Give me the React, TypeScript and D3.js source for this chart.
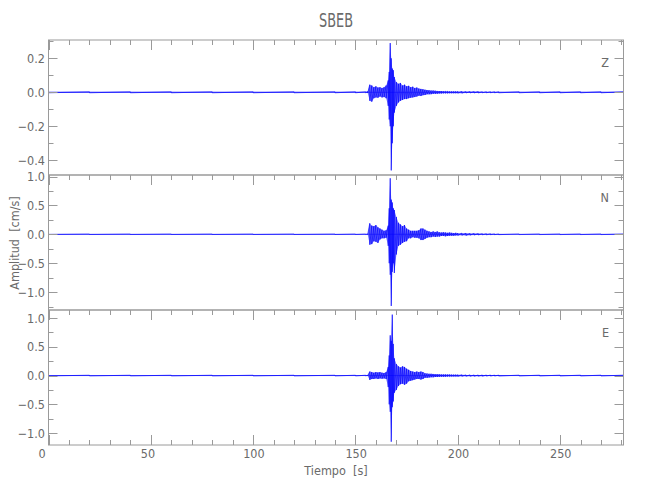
import React from "react";
import * as d3 from "d3";

const TITLE = "SBEB";
const X_LABEL = "Tiempo  [s]";
const Y_LABEL = "Amplitud  [cm/s]";
const X_MAJOR = [0, 50, 100, 150, 200, 250];
const X_MINOR_STEP = 10;
const X_DOMAIN = [0, 281];
const COMPONENTS = ["Z", "N", "E"];
const Y_DOMAINS = [
  [-0.487, 0.308],
  [-1.31, 1.026],
  [-1.207, 1.14],
];
const Y_MAJOR = [
  [0.2, 0, -0.2, -0.4],
  [1, 0.5, 0, -0.5, -1],
  [1, 0.5, 0, -0.5, -1],
];
const Y_MINOR_STEP = [0.1, 0.25, 0.25];

// time samples (s) at which the trace envelope was read
const TIMES = [0, 20, 40, 60, 80, 100, 120, 140, 150, 155, 156,
  157, 158, 159, 160, 161, 162, 163, 164, 165, 166,
  166.5, 167, 167.5, 168, 168.5,
  169, 170, 171, 172, 173, 174, 175, 176, 177, 178, 179, 180, 181, 182, 183, 184,
  185, 186, 187, 188, 189, 190, 191, 192, 193, 194, 195, 196, 197, 198, 199, 200,
  202, 204, 206, 208, 210, 212, 214, 216, 218, 220,
  230, 240, 250, 260, 270, 281];

// envelope maxima (positive side) and minima magnitudes (negative side), cm/s
const Z_UP = [0.003, 0.003, 0.003, 0.003, 0.003, 0.003, 0.003, 0.003, 0.003, 0.003, 0.004,
  0.045, 0.04, 0.03, 0.035, 0.028, 0.03, 0.025, 0.03, 0.04, 0.07,
  0.12, 0.29, 0.2, 0.14, 0.13,
  0.09, 0.06, 0.05, 0.055, 0.04, 0.045, 0.035, 0.038, 0.03, 0.033, 0.025, 0.028, 0.022, 0.02, 0.018, 0.015,
  0.013, 0.012, 0.01, 0.01, 0.009, 0.008, 0.007, 0.007, 0.006, 0.006, 0.006, 0.005, 0.005, 0.005, 0.005, 0.005,
  0.005, 0.004, 0.004, 0.004, 0.004, 0.003, 0.003, 0.003, 0.003, 0.003,
  0.003, 0.003, 0.003, 0.003, 0.003, 0.003];
const Z_DN = [0.003, 0.003, 0.003, 0.003, 0.003, 0.003, 0.003, 0.003, 0.003, 0.003, 0.004,
  0.05, 0.055, 0.035, 0.03, 0.032, 0.025, 0.03, 0.028, 0.035, 0.08,
  0.16, 0.2, 0.46, 0.3, 0.2,
  0.12, 0.08, 0.06, 0.05, 0.045, 0.04, 0.04, 0.035, 0.032, 0.03, 0.028, 0.025, 0.02, 0.022, 0.017, 0.016,
  0.012, 0.012, 0.011, 0.009, 0.009, 0.008, 0.007, 0.007, 0.006, 0.006, 0.006, 0.005, 0.005, 0.005, 0.005, 0.005,
  0.005, 0.004, 0.004, 0.004, 0.004, 0.003, 0.003, 0.003, 0.003, 0.003,
  0.003, 0.003, 0.003, 0.003, 0.003, 0.003];

const N_UP = [0.004, 0.004, 0.004, 0.004, 0.004, 0.004, 0.004, 0.004, 0.004, 0.004, 0.005,
  0.19, 0.15, 0.14, 0.16, 0.12, 0.1, 0.08, 0.06, 0.07, 0.15,
  0.45, 0.97, 0.6, 0.55, 0.45,
  0.42, 0.3, 0.2, 0.17, 0.14, 0.16, 0.1, 0.08, 0.06, 0.06, 0.06, 0.06, 0.07, 0.1, 0.1, 0.08,
  0.06, 0.05, 0.04, 0.05, 0.04, 0.05, 0.035, 0.03, 0.035, 0.03, 0.025, 0.03, 0.025, 0.02, 0.025, 0.02,
  0.02, 0.018, 0.015, 0.015, 0.012, 0.01, 0.009, 0.008, 0.007, 0.006,
  0.005, 0.005, 0.005, 0.005, 0.005, 0.005];
const N_DN = [0.004, 0.004, 0.004, 0.004, 0.004, 0.004, 0.004, 0.004, 0.004, 0.004, 0.005,
  0.18, 0.17, 0.12, 0.13, 0.15, 0.09, 0.07, 0.07, 0.06, 0.2,
  0.5, 0.7, 1.24, 0.65, 0.5,
  0.67, 0.35, 0.2, 0.18, 0.15, 0.13, 0.12, 0.07, 0.07, 0.05, 0.06, 0.06, 0.07, 0.1, 0.1, 0.08,
  0.06, 0.05, 0.05, 0.04, 0.045, 0.04, 0.04, 0.03, 0.03, 0.035, 0.03, 0.025, 0.025, 0.025, 0.02, 0.02,
  0.018, 0.02, 0.015, 0.014, 0.012, 0.01, 0.01, 0.008, 0.007, 0.006,
  0.005, 0.005, 0.005, 0.005, 0.005, 0.005];

const E_UP = [0.006, 0.006, 0.006, 0.006, 0.006, 0.006, 0.006, 0.006, 0.006, 0.006, 0.007,
  0.07, 0.06, 0.05, 0.06, 0.055, 0.06, 0.05, 0.045, 0.06, 0.15,
  0.35, 0.7, 0.6, 1.06, 0.55,
  0.3, 0.2, 0.16, 0.14, 0.16, 0.15, 0.12, 0.1, 0.08, 0.07, 0.06, 0.07, 0.06, 0.07, 0.06, 0.04,
  0.035, 0.03, 0.03, 0.028, 0.025, 0.025, 0.022, 0.02, 0.02, 0.02, 0.018, 0.018, 0.016, 0.015, 0.015, 0.014,
  0.013, 0.012, 0.012, 0.011, 0.01, 0.01, 0.009, 0.009, 0.008, 0.008,
  0.007, 0.007, 0.007, 0.007, 0.007, 0.007];
const E_DN = [0.006, 0.006, 0.006, 0.006, 0.006, 0.006, 0.006, 0.006, 0.006, 0.006, 0.007,
  0.075, 0.06, 0.06, 0.05, 0.06, 0.05, 0.055, 0.05, 0.06, 0.2,
  0.5, 0.63, 1.15, 0.55, 0.45,
  0.3, 0.25, 0.18, 0.15, 0.14, 0.16, 0.14, 0.1, 0.09, 0.08, 0.07, 0.06, 0.06, 0.07, 0.06, 0.04,
  0.04, 0.035, 0.03, 0.03, 0.025, 0.025, 0.022, 0.02, 0.02, 0.02, 0.018, 0.018, 0.016, 0.015, 0.015, 0.014,
  0.013, 0.012, 0.012, 0.011, 0.01, 0.01, 0.009, 0.009, 0.008, 0.008,
  0.007, 0.007, 0.007, 0.007, 0.007, 0.007];

const TRACES = [
  { up: Z_UP, dn: Z_DN },
  { up: N_UP, dn: N_DN },
  { up: E_UP, dn: E_DN },
];

const W = 650;
const H = 500;
const LEFT = 48.5;
const RIGHT = 623.5;
const PANEL_TOPS = [40, 175, 310];
const PANEL_H = 135;
const FRAME = "#9a9a9a";
const TEXT = "#6a6a6a";
const FONT = "'Liberation Sans Narrow', 'DejaVu Sans Condensed', 'Roboto Condensed', sans-serif";
const TRACE_COLOR = "#0000ff";

function ticksByStep(lo: number, hi: number, step: number) {
  const out: number[] = [];
  const start = Math.ceil(lo / step - 1e-9);
  const end = Math.floor(hi / step + 1e-9);
  for (let k = start; k <= end; k++) out.push(+(k * step).toFixed(6));
  return out;
}

export default function App() {
  const x = d3.scaleLinear().domain(X_DOMAIN).range([LEFT, RIGHT]);
  const xMinor = ticksByStep(X_DOMAIN[0], X_DOMAIN[1], X_MINOR_STEP);
  const fmt = d3.format(".1f");
  const last = PANEL_TOPS.length - 1;
  const bottomY = PANEL_TOPS[last] + PANEL_H;

  return (
    <svg width={W} height={H} style={{ position: "absolute", left: 0, top: 0, background: "#fff" }} fontFamily={FONT}>
      <rect x={0} y={0} width={W} height={H} fill="#fff" />
      <text x={(LEFT + RIGHT) / 2} y={27} textAnchor="middle" fontSize={20} fill={TEXT}
        textLength={34} lengthAdjust="spacingAndGlyphs">{TITLE}</text>

      {PANEL_TOPS.map((top, i) => {
        const y = d3.scaleLinear().domain(Y_DOMAINS[i]).range([top + PANEL_H, top]);
        const minor = ticksByStep(Y_DOMAINS[i][0], Y_DOMAINS[i][1], Y_MINOR_STEP[i]);
        const majorSet = new Set(Y_MAJOR[i].map((v) => v.toFixed(3)));
        const tr = TRACES[i];
        const pts: [number, number][] = [];
        TIMES.forEach((t, k) => {
          pts.push([x(t), y(tr.up[k])]);
          pts.push([x(t), y(-tr.dn[k])]);
        });
        const zig = d3.line()(pts) || "";
        const area = d3.area<number>()
          .x((_, k) => x(TIMES[k]))
          .y0((_, k) => y(-tr.dn[k]))
          .y1((_, k) => y(tr.up[k]))(TIMES) || "";
        const y0 = y(0);
        return (
          <g key={i}>
            <defs>
              <clipPath id={`clip${i}`}>
                <rect x={LEFT} y={top} width={RIGHT - LEFT} height={PANEL_H} />
              </clipPath>
            </defs>
            <g clipPath={`url(#clip${i})`}>
              <line x1={LEFT} x2={RIGHT} y1={y0} y2={y0} stroke={TRACE_COLOR} strokeWidth={0.8} strokeOpacity={0.6} />
              <path d={area} fill={TRACE_COLOR} fillOpacity={0.55} stroke="none" />
              <path d={zig} fill="none" stroke={TRACE_COLOR} strokeWidth={0.7} strokeOpacity={0.9} />
            </g>
            {/* frame */}
            <rect x={LEFT} y={top} width={RIGHT - LEFT} height={PANEL_H} fill="none" stroke={FRAME} strokeWidth={1} />
            {/* y ticks, left and right */}
            {minor.map((v) => {
              const isMajor = majorSet.has(v.toFixed(3));
              const len = isMajor ? 9 : 5;
              const yy = Math.round(y(v)) + 0.5;
              return (
                <g key={`y${v}`}>
                  <line x1={LEFT} x2={LEFT + len} y1={yy} y2={yy} stroke={FRAME} />
                  <line x1={RIGHT} x2={RIGHT - len} y1={yy} y2={yy} stroke={FRAME} />
                </g>
              );
            })}
            {Y_MAJOR[i].map((v) => (
              <text key={`yl${v}`} x={45} y={y(v) + 4.5} textAnchor="end" fontSize={12.5} fill={TEXT}>
                {fmt(v)}
              </text>
            ))}
            {/* top x ticks */}
            {xMinor.map((t) => {
              const isMajor = X_MAJOR.includes(t);
              const len = isMajor ? 10 : 5;
              const xx = Math.round(x(t)) + 0.5;
              return <line key={`xt${t}`} x1={xx} x2={xx} y1={top} y2={top + len} stroke={FRAME} />;
            })}
            <text x={609} y={top + 27} textAnchor="end" fontSize={12.5} fill={TEXT}>{COMPONENTS[i]}</text>
          </g>
        );
      })}

      {/* bottom x axis of last panel */}
      {xMinor.map((t) => {
        const isMajor = X_MAJOR.includes(t);
        const len = isMajor ? 10 : 5;
        const xx = Math.round(x(t)) + 0.5;
        return <line key={`xb${t}`} x1={xx} x2={xx} y1={bottomY} y2={bottomY - len} stroke={FRAME} />;
      })}
      {X_MAJOR.map((t) => (
        <text key={`xl${t}`} x={x(t) - 10} y={bottomY + 12.5} textAnchor="start" fontSize={12.5} fill={TEXT}>
          {String(t)}
        </text>
      ))}
      <text x={(LEFT + RIGHT) / 2} y={bottomY + 30} textAnchor="middle" fontSize={12.5} fill={TEXT}
        xmlSpace="preserve" style={{ whiteSpace: "pre" }}>{X_LABEL}</text>
      <text transform={`translate(19, 243) rotate(-90)`} textAnchor="middle" fontSize={12.5} fill={TEXT}
        xmlSpace="preserve" style={{ whiteSpace: "pre" }}>{Y_LABEL}</text>
    </svg>
  );
}
